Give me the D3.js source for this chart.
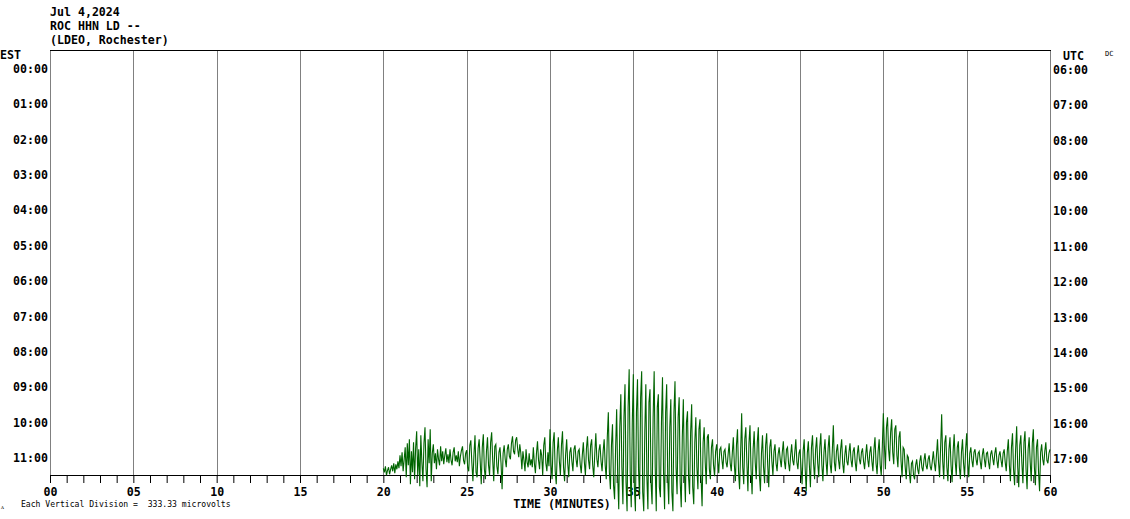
<!DOCTYPE html>
<html>
<head>
<meta charset="utf-8">
<script src="https://cdn.jsdelivr.net/npm/d3@7"></script>
<style>
  html, body { margin: 0; padding: 0; background: #fff; }
  svg { display: block; }
  text { font-family: "DejaVu Sans Mono", monospace; }
</style>
</head>
<body>
<svg id="chart" width="1130" height="519"></svg>
<script>
// ---------- data ----------
const titleLines = ["Jul 4,2024", "ROC HHN LD --", "(LDEO, Rochester)"];
const estLabels = ["00:00","01:00","02:00","03:00","04:00","05:00","06:00","07:00","08:00","09:00","10:00","11:00"];
const utcLabels = ["06:00","07:00","08:00","09:00","10:00","11:00","12:00","13:00","14:00","15:00","16:00","17:00"];
const minuteTickValues = [0,1,2,3,4,5,6,7,8,9,10,11,12,13,14,15,16,17,18,19,20,21,22,23,24,25,26,27,28,29,30,31,32,33,34,35,36,37,38,39,40,41,42,43,44,45,46,47,48,49,50,51,52,53,54,55,56,57,58,59,60];
const minuteLabelValues = [0,5,10,15,20,25,30,35,40,45,50,55,60];
const traceRow = 11;          // last row (11:00 EST)
const traceStartMinute = 20;  // trace begins at minute 20
const traceStep = 0.0625;     // minutes between samples
// trace amplitude (counts), one line per minute, 16 samples each
const traceValues = [
  -11,-15,-9,-18,-13,-10,-17,-12,-8,-14,-6,-16,-7,-12,-4,-11,
  2,-9,5,-14,-2,10,-20,14,-8,18,-27,6,-15,15,-22,9,
  26,-18,8,-29,22,-5,-24,14,30,-12,-30,18,-6,28,-24,4,
  13,-6,4,-12,8,-2,-8,11,-4,6,-7,2,9,-5,3,-6,
  8,-3,-8,5,10,-4,2,-5,6,-9,1,7,11,-3,-7,4,
  7,-10,-14,12,17,-6,-24,3,22,-15,-20,9,18,-4,-27,10,
  23,-12,-22,6,20,-8,-18,15,25,-3,-24,11,13,-9,-17,5,
  10,-6,-32,4,12,-2,-10,8,13,1,-2,14,21,6,3,17,
  20,8,0,13,4,-12,6,-3,-14,8,-5,-10,4,-8,-2,-10,
  10,-6,-16,4,16,-3,-12,8,2,-18,12,20,-6,-14,5,-9,
  28,-8,-22,15,25,-14,-27,6,20,-4,-18,12,26,-10,-24,3,
  18,-6,-20,5,10,-4,-14,8,12,-2,-10,6,8,-7,-16,2,
  15,-5,-18,9,21,-3,-12,12,18,-8,-20,4,24,-2,-10,7,
  13,-4,-14,6,18,-8,-22,20,45,-15,-32,12,33,-28,-42,10,
  48,-20,-52,30,63,-10,-47,40,73,-25,-54,50,88,-15,-50,35,
  83,-30,-54,45,78,-12,-42,60,86,-35,-54,25,73,-20,-52,55,
  68,-25,-47,40,86,-10,-54,50,63,-30,-40,35,80,-15,-52,45,
  73,-20,-47,30,58,-35,-54,45,76,-10,-37,40,60,-25,-50,20,
  58,-15,-45,35,46,-20,-37,25,53,-30,-47,15,40,-10,-32,28,
  38,-20,-49,15,30,-5,-27,20,23,-12,-22,10,18,-8,-19,6,
  13,-4,-16,8,10,-2,-12,6,8,-5,-10,3,14,-6,-14,4,
  20,-8,-24,12,28,-15,-32,5,44,-10,-27,18,30,-6,-34,14,
  32,-12,-37,8,26,-5,-22,15,30,-18,-34,4,22,-10,-26,12,
  24,-8,-30,10,18,-4,-18,6,13,-6,-14,3,10,-2,-10,5,
  16,-4,-12,8,10,-6,-14,2,13,-3,-8,5,18,-5,-12,4,
  8,-10,-27,6,18,-12,-34,4,16,-8,-30,10,22,-6,-22,8,
  20,-6,-20,10,24,-8,-24,5,18,-4,-18,9,22,-7,-16,6,
  32,-5,-14,6,13,-3,-12,8,18,-6,-16,2,12,-4,-8,5,
  14,-3,-10,6,10,-5,-14,3,12,-2,-7,5,9,-4,-12,2,
  13,-2,-10,5,11,-4,-14,8,20,-6,-17,6,18,-8,-18,10,
  44,12,-12,30,40,8,-4,25,38,5,-7,28,32,2,-10,20,
  26,-4,-20,10,8,-10,-22,2,0,-15,-26,-6,-4,-18,-22,-8,
  -2,-12,-17,-4,2,-10,-14,-3,4,-8,-12,-2,2,-9,-13,-4,
  6,-6,-14,2,18,-5,-20,10,43,-4,-22,15,22,-10,-24,8,
  20,-8,-25,6,23,-4,-18,10,16,-10,-22,5,18,-6,-20,8,
  24,-6,-20,4,10,-3,-10,5,8,-2,-8,4,6,-4,-12,2,
  9,-2,-10,4,5,-5,-12,3,7,-1,-8,4,10,-3,-11,2,
  6,-3,-10,4,8,-5,-14,6,18,-8,-24,10,24,-12,-28,8,
  31,-10,-30,12,22,-6,-26,15,26,-12,-32,8,20,-5,-24,14,
  28,-10,-28,10,18,-15,-34,5,13,-2,-8,6,15,-3,-6,4,
  8
];

// ---------- layout ----------
const svg = d3.select("#chart");
const L = 50, R = 1050, T = 50, B = 475;
const x = d3.scaleLinear().domain([0, 60]).range([L, R]);
const rows = d3.scaleBand().domain(d3.range(12)).range([T, B]);
const rowCenter = i => rows(i) + rows.bandwidth() / 2;
const amp = d3.scaleLinear().domain([-1, 1]).range([1, -1]); // counts -> px offset
const bold = "bold";
const fs = "11.6px";

// header
svg.append("g").selectAll("text").data(titleLines).join("text")
  .attr("x", 50).attr("y", (d, i) => 16 + i * 14)
  .attr("font-size", fs).attr("font-weight", bold).text(d => d);

// grid lines every 5 minutes
svg.append("g").selectAll("line").data(minuteLabelValues).join("line")
  .attr("x1", d => Math.round(x(d)) + 0.5).attr("x2", d => Math.round(x(d)) + 0.5)
  .attr("y1", T).attr("y2", B)
  .attr("stroke", "#808080").attr("stroke-width", 1);

// top border
svg.append("line").attr("x1", L).attr("x2", R + 1).attr("y1", T + 0.5).attr("y2", T + 0.5)
  .attr("stroke", "#000");

// left/right labels
svg.append("text").attr("x", 0).attr("y", 59).attr("font-size", fs).attr("font-weight", bold).text("EST");
svg.append("text").attr("x", 1063).attr("y", 60).attr("font-size", fs).attr("font-weight", bold).text("UTC");
svg.append("text").attr("x", 1105).attr("y", 56).attr("font-size", "7px").attr("fill", "#000").text("DC");

svg.append("g").selectAll("text").data(estLabels).join("text")
  .attr("x", 48).attr("y", (d, i) => rowCenter(i) + 5)
  .attr("text-anchor", "end").attr("font-size", fs).attr("font-weight", bold).text(d => d);
svg.append("g").selectAll("text").data(utcLabels).join("text")
  .attr("x", 1053).attr("y", (d, i) => rowCenter(i) + 6)
  .attr("font-size", fs).attr("font-weight", bold).text(d => d);

// bottom axis
const fmt = d3.format("02d");
const axis = d3.axisBottom(x).tickValues(minuteTickValues).tickSize(8).tickSizeOuter(0)
  .tickPadding(5).tickFormat(d => minuteLabelValues.includes(d) ? fmt(d) : "");
const gAxis = svg.append("g").attr("transform", `translate(0,${B})`).call(axis);
gAxis.selectAll("text").attr("font-size", fs).attr("font-weight", bold)
  .attr("font-family", "DejaVu Sans Mono, monospace").attr("fill", "#000");
gAxis.selectAll("line, path").attr("stroke", "#000");

svg.append("text").attr("x", x(30) + 12).attr("y", 508).attr("text-anchor", "middle")
  .attr("font-size", fs).attr("font-weight", bold).text("TIME (MINUTES)");

svg.append("text").attr("x", 21).attr("y", 507).attr("font-size", "8.1px")
  .attr("xml:space", "preserve").style("white-space", "pre")
  .text("Each Vertical Division =  333.33 microvolts");
svg.append("text").attr("x", 1).attr("y", 509).attr("font-size", "6px").text("ᴧ");

// trace
const line = d3.line()
  .x((d, i) => x(traceStartMinute + i * traceStep))
  .y(d => rowCenter(traceRow) + amp(d));
svg.append("path").datum(traceValues).attr("d", line)
  .attr("fill", "none").attr("stroke", "#006400").attr("stroke-width", 1.1);
</script>
</body>
</html>
